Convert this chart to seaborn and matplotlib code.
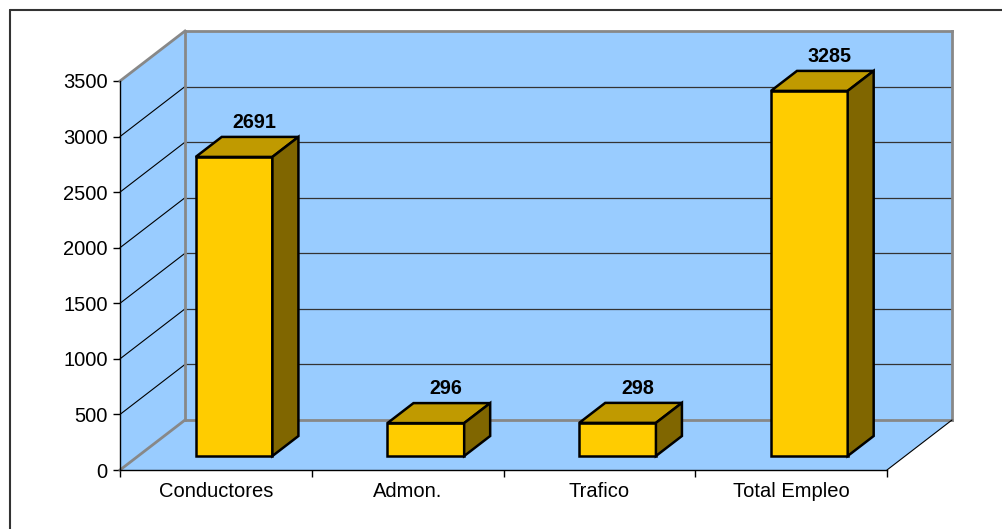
import numpy as np
import pandas as pd
import matplotlib
matplotlib.use("Agg")
import matplotlib.pyplot as plt
import matplotlib.transforms as mtransforms
from matplotlib.patches import Polygon
from matplotlib.lines import Line2D
import seaborn as sns

# ---- data ----
categories = ["Conductores", "Admon.", "Trafico", "Total Empleo"]
values = [2691, 296, 298, 3285]
yticks = [0, 500, 1000, 1500, 2000, 2500, 3000, 3500]

sns.set_theme(style="white")
plt.rcParams["font.family"] = ["Liberation Sans", "DejaVu Sans"]

W, H = 1002, 529
fig = plt.figure(figsize=(W / 100, H / 100), dpi=100, facecolor="white")
ax = fig.add_axes([120 / W, 59 / H, 767 / W, 389 / H])
ax.patch.set_visible(False)

YMAX = 3500
DX = 65 / 191.75          # depth offset in category units
DY = 50 * YMAX / 389      # depth offset in value units
F1 = 0.28                 # bar front depth fraction
DD = 0.40                 # bar depth fraction

blue = "#99CCFF"
edge_gray = "#888888"

# ---- walls ----
x0, x1 = -0.5, len(categories) - 0.5
walls = [
    [(x0 + DX, DY), (x1 + DX, DY), (x1 + DX, YMAX + DY), (x0 + DX, YMAX + DY)],
    [(x0, 0), (x0 + DX, DY), (x0 + DX, YMAX + DY), (x0, YMAX)],
    [(x0, 0), (x1, 0), (x1 + DX, DY), (x0 + DX, DY)],
]
for w in walls:
    ax.add_patch(Polygon(w, closed=True, facecolor=blue, edgecolor="none",
                         zorder=0, clip_on=False))

for v in yticks[1:-1]:
    ax.plot([x0 + DX, x1 + DX], [v + DY, v + DY], color="#333333", lw=0.9,
            zorder=0.5, clip_on=False)
    ax.plot([x0, x0 + DX], [v, v + DY], color="black", lw=0.8,
            zorder=0.5, clip_on=False)

gray_edges = [
    ([x0, x0 + DX], [YMAX, YMAX + DY]),
    ([x0 + DX, x1 + DX], [YMAX + DY, YMAX + DY]),
    ([x0 + DX, x0 + DX], [DY, YMAX + DY]),
    ([x1 + DX, x1 + DX], [DY, YMAX + DY]),
    ([x0 + DX, x1 + DX], [DY, DY]),
    ([x0, x0 + DX], [0, DY]),
]
for xs, ys in gray_edges:
    ax.plot(xs, ys, color=edge_gray, lw=2.0, zorder=0.6, clip_on=False,
            solid_capstyle="projecting")
ax.plot([x1, x1 + DX], [0, DY], color="black", lw=0.8, zorder=0.6, clip_on=False)

# ---- bars ----
df = pd.DataFrame({"cat": categories, "val": values})
sns.barplot(data=df, x="cat", y="val", color="#FFCC00", saturation=1,
            width=0.4, edgecolor="black", linewidth=1.8, ax=ax, zorder=3)

shift = mtransforms.Affine2D().translate(F1 * DX, F1 * DY) + ax.transData
for p in list(ax.patches):
    if not isinstance(p, matplotlib.patches.Rectangle):
        continue
    bx, bw, bh = p.get_x(), p.get_width(), p.get_height()
    p.set_transform(shift)
    p.set_clip_on(False)
    p.set_joinstyle("miter")
    top = [(bx, bh), (bx + bw, bh), (bx + bw + DD * DX, bh + DD * DY),
           (bx + DD * DX, bh + DD * DY)]
    side = [(bx + bw, 0), (bx + bw + DD * DX, DD * DY),
            (bx + bw + DD * DX, bh + DD * DY), (bx + bw, bh)]
    for poly, col in ((top, "#C09A00"), (side, "#806600")):
        ax.add_patch(Polygon(poly, closed=True, facecolor=col, edgecolor="black",
                             lw=1.8, joinstyle="miter", transform=shift,
                             zorder=3, clip_on=False))

for i, v in enumerate(values):
    ax.annotate(f"{v}", xy=(i + 0.59 * DX, v + (F1 + DD) * DY),
                xytext=(0, 6.2), textcoords="offset points",
                ha="center", va="baseline", fontsize=14.2, fontweight="bold",
                color="black", annotation_clip=False)

# ---- axes ----
ax.set_xlim(x0, x1)
ax.set_ylim(0, YMAX)
ax.set_yticks(yticks)
ax.set_yticklabels([str(t) for t in yticks])
ax.set_xticks(range(len(categories)))
ax.set_xticklabels(categories)
ax.set_xticks(np.arange(x0, x1 + 0.01, 1.0), minor=True)
ax.tick_params(axis="y", which="major", length=5.4, width=1, pad=3.4,
               labelsize=14.5, direction="out", left=True, colors="black")
ax.tick_params(axis="x", which="major", length=0, pad=8.3, labelsize=14.5,
               colors="black")
ax.tick_params(axis="x", which="minor", length=5, width=1, direction="out",
               bottom=True, colors="black")
ax.set_xlabel("")
ax.set_ylabel("")
for s in ("top", "right"):
    ax.spines[s].set_visible(False)
for s in ("left", "bottom"):
    ax.spines[s].set_visible(True)
    ax.spines[s].set_color("black")
    ax.spines[s].set_linewidth(1.0)
    ax.spines[s].set_zorder(4)

# ---- outer frame (left and top edges) ----
fig.add_artist(Line2D([9.5 / W, 9.5 / W], [0, 1 - 9.5 / H], transform=fig.transFigure,
                      color="#333333", lw=1.5))
fig.add_artist(Line2D([9.5 / W, 1], [1 - 9.5 / H, 1 - 9.5 / H], transform=fig.transFigure,
                      color="#333333", lw=1.5))

fig.savefig("out.png", dpi=100, facecolor="white")
